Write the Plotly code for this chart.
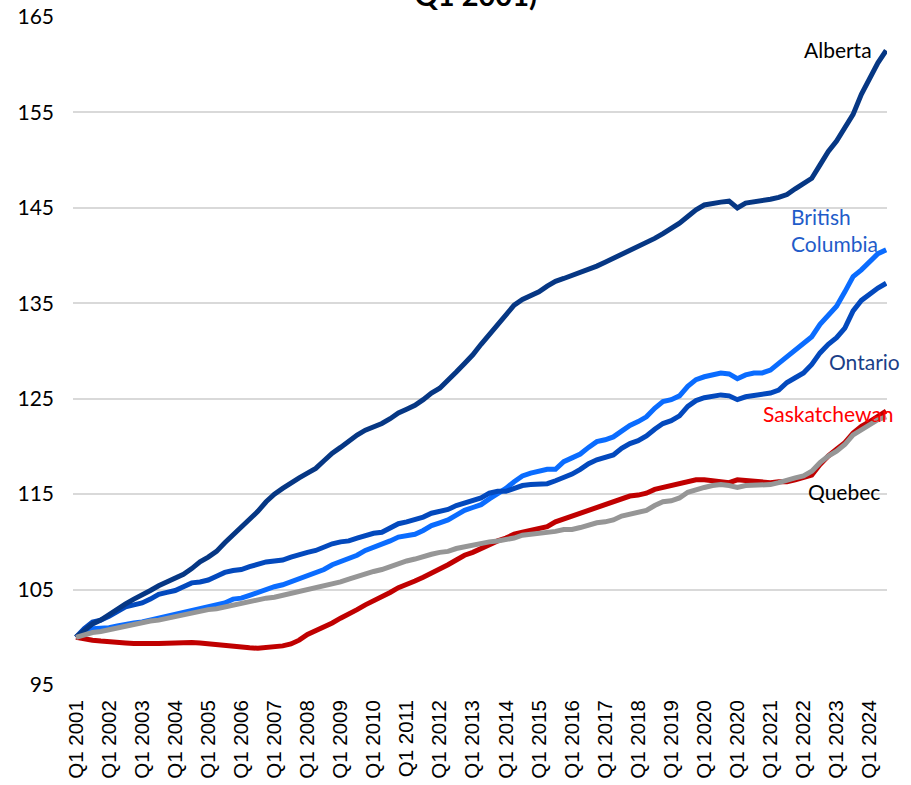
import plotly.graph_objects as go

quarters = list(range(99))

tick_labels = [
    "Q1 2001", "Q1 2002", "Q1 2003", "Q1 2004", "Q1 2005", "Q1 2006", "Q1 2007",
    "Q1 2008", "Q1 2009", "Q1 2010", "Q1 2011", "Q1 2012", "Q1 2013", "Q1 2014",
    "Q1 2015", "Q1 2016", "Q1 2017", "Q1 2018", "Q1 2019", "Q1 2020", "Q1 2020",
    "Q1 2021", "Q1 2022", "Q1 2023", "Q1 2024",
]

alberta = [
    100.0, 100.7, 101.4, 101.8, 102.4, 102.9, 103.5, 104.0, 104.4, 104.9,
    105.4, 105.8, 106.2, 106.6, 107.2, 107.9, 108.4, 109.0, 109.9, 110.7,
    111.5, 112.3, 113.2, 114.2, 115.0, 115.6, 116.2, 116.7, 117.2, 117.7,
    118.5, 119.3, 119.9, 120.6, 121.2, 121.7, 122.0, 122.4, 122.9, 123.5,
    123.9, 124.3, 124.9, 125.6, 126.1, 126.9, 127.8, 128.7, 129.6, 130.7,
    131.7, 132.7, 133.8, 134.8, 135.4, 135.8, 136.2, 136.8, 137.3, 137.6,
    137.9, 138.3, 138.6, 138.9, 139.3, 139.7, 140.1, 140.5, 141.0, 141.4,
    141.8, 142.3, 142.8, 143.4, 144.1, 144.8, 145.3, 145.5, 145.6, 145.7,
    145.0, 145.5, 145.6, 145.7, 145.9, 146.1, 146.4, 147.0, 147.5, 148.1,
    149.5, 150.9, 152.0, 153.4, 154.8, 156.9, 158.6, 160.2, 161.5,
]

british_columbia = [
    100.0, 100.6, 100.9, 100.9, 101.0, 101.2, 101.4, 101.5, 101.6, 101.8,
    102.0, 102.2, 102.3, 102.5, 102.7, 103.0, 103.1, 103.3, 103.6, 104.0,
    104.1, 104.4, 104.7, 105.1, 105.3, 105.5, 105.8, 106.2, 106.4, 106.7,
    107.1, 107.6, 107.9, 108.2, 108.6, 109.1, 109.4, 109.7, 110.1, 110.5,
    110.7, 110.8, 111.2, 111.7, 112.0, 112.3, 112.8, 113.3, 113.6, 113.9,
    114.5, 115.0, 115.6, 116.3, 116.9, 117.2, 117.4, 117.6, 117.6, 118.4,
    118.8, 119.2, 119.9, 120.5, 120.7, 121.0, 121.6, 122.2, 122.6, 123.1,
    124.0, 124.7, 124.9, 125.3, 126.3, 127.0, 127.3, 127.5, 127.7, 127.6,
    127.1, 127.5, 127.7, 127.7, 128.0, 128.7, 129.4, 130.1, 130.7, 131.5,
    132.8, 133.8, 134.7, 136.2, 137.8, 138.5, 139.4, 140.2, 140.6,
]

ontario = [
    100.0, 100.9, 101.6, 101.8, 102.2, 102.7, 103.2, 103.4, 103.6, 104.0,
    104.5, 104.7, 104.9, 105.3, 105.7, 105.8, 106.0, 106.4, 106.8, 107.0,
    107.1, 107.4, 107.7, 107.9, 108.0, 108.1, 108.4, 108.7, 108.9, 109.1,
    109.5, 109.8, 110.0, 110.1, 110.4, 110.7, 110.9, 111.0, 111.4, 111.9,
    112.1, 112.3, 112.6, 113.0, 113.2, 113.4, 113.8, 114.1, 114.3, 114.6,
    115.1, 115.3, 115.3, 115.6, 115.9, 116.0, 116.0, 116.1, 116.4, 116.7,
    117.1, 117.6, 118.2, 118.6, 118.8, 119.1, 119.8, 120.3, 120.6, 121.1,
    121.8, 122.4, 122.7, 123.2, 124.2, 124.8, 125.1, 125.3, 125.4, 125.3,
    124.9, 125.2, 125.3, 125.4, 125.6, 125.9, 126.7, 127.2, 127.7, 128.6,
    129.8, 130.7, 131.4, 132.4, 134.2, 135.3, 136.0, 136.6, 137.1,
]

saskatchewan = [
    100.0, 99.8, 99.7, 99.6, 99.5, 99.45, 99.4, 99.35, 99.3, 99.35,
    99.35, 99.4, 99.4, 99.4, 99.45, 99.4, 99.3, 99.2, 99.1, 99.0,
    99.0, 98.9, 98.85, 98.9, 99.0, 99.1, 99.3, 99.7, 100.3, 100.7,
    101.0, 101.5, 102.0, 102.4, 102.9, 103.4, 103.8, 104.2, 104.7, 105.2,
    105.5, 105.9, 106.3, 106.7, 107.1, 107.6, 108.1, 108.6, 108.9, 109.3,
    109.8, 110.1, 110.4, 110.8, 111.0, 111.2, 111.4, 111.6, 112.1, 112.4,
    112.7, 113.0, 113.4, 113.7, 114.0, 114.3, 114.6, 114.8, 114.9, 115.1,
    115.5, 115.7, 115.8, 116.0, 116.3, 116.5, 116.5, 116.4, 116.3, 116.2,
    116.5, 116.4, 116.3, 116.2, 116.2, 116.3, 116.3, 116.5, 116.7, 117.0,
    118.1, 119.0, 119.7, 120.4, 121.4, 122.1, 122.6, 123.1, 123.7,
]

quebec = [
    100.0, 100.3, 100.5, 100.6, 100.8, 101.0, 101.2, 101.3, 101.5, 101.7,
    101.8, 102.0, 102.2, 102.4, 102.5, 102.7, 102.9, 103.0, 103.2, 103.4,
    103.5, 103.7, 103.9, 104.1, 104.2, 104.4, 104.6, 104.8, 104.9, 105.2,
    105.4, 105.6, 105.8, 106.1, 106.4, 106.7, 106.9, 107.1, 107.4, 107.8,
    108.0, 108.2, 108.5, 108.7, 108.9, 109.0, 109.3, 109.5, 109.6, 109.8,
    110.0, 110.1, 110.2, 110.4, 110.7, 110.8, 110.8, 110.9, 111.1, 111.3,
    111.3, 111.5, 111.8, 112.0, 112.1, 112.3, 112.7, 112.9, 113.1, 113.3,
    113.8, 114.2, 114.3, 114.6, 115.2, 115.5, 115.7, 115.9, 116.0, 115.9,
    115.7, 115.9, 115.9, 115.9, 116.0, 116.2, 116.5, 116.7, 116.9, 117.4,
    118.3, 119.0, 119.5, 120.2, 121.2, 121.7, 122.3, 122.8, 123.1,
]

SERIES = [
    ("British Columbia", british_columbia, "#0a6cff"),
    ("Ontario", ontario, "#0349bd"),
    ("Alberta", alberta, "#063784"),
    ("Saskatchewan", saskatchewan, "#c00000"),
    ("Quebec", quebec, "#969696"),
]

# end-of-line labels: (text, x, y, anchor, colour)
LABELS = [
    ("Alberta", 96.5, 161.6, "right", "#000000"),
    ("British<br>Columbia", 86.2, 142.7, "left", "#1f5cc9"),
    ("Ontario", 90.9, 128.85, "left", "#1b3f88"),
    ("Saskatchewan", 82.8, 123.5, "left", "#ff0000"),
    ("Quebec", 88.3, 115.3, "left", "#000000"),
]

W, H = 911, 785
L, R, T, B = 73, 24, 17, 100

fig = go.Figure()
for name, values, color in SERIES:
    fig.add_trace(go.Scatter(
        x=quarters, y=values, name=name, mode="lines",
        line=dict(color=color, width=5),
    ))

for text, x, y, anchor, color in LABELS:
    fig.add_annotation(
        x=x, y=y, xref="x", yref="y", text=text, showarrow=False,
        xanchor=anchor, yanchor="middle", align="left",
        font=dict(family="Lato", size=21, color=color),
    )

fig.add_annotation(
    x=(475 - L) / (W - L - R), xref="paper", y=1.0045, yref="paper",
    text="Population Growth by Province (Index, 100 =<br>Q1 2001)",
    showarrow=False, xanchor="center", yanchor="bottom",
    font=dict(family="Lato", size=29, color="#000000", weight="bold"),
)

fig.update_layout(
    width=W, height=H,
    margin=dict(l=L, r=R, t=T, b=B, autoexpand=False),
    paper_bgcolor="white", plot_bgcolor="white",
    showlegend=False,
    xaxis=dict(
        range=[-0.36, 98.1], tickvals=list(range(0, 97, 4)), ticktext=tick_labels,
        tickangle=-90, showgrid=False, zeroline=False, showline=False,
        automargin=False, ticklabelstandoff=10,
        tickfont=dict(family="Liberation Sans", size=20.5, color="#000000"),
    ),
    yaxis=dict(
        range=[95, 165], tick0=95, dtick=10, showgrid=True,
        gridcolor="#d9d9d9", gridwidth=1.5, zeroline=False, showline=False,
        automargin=False, ticklabelstandoff=18,
        tickfont=dict(family="Lato", size=21, color="#000000"),
    ),
)

# drop the default 8px body margin so the figure sits at the page corner
fig.write_html(
    "out.html",
    config={"displayModeBar": False},
    post_script="document.body.style.margin = '0';",
)
